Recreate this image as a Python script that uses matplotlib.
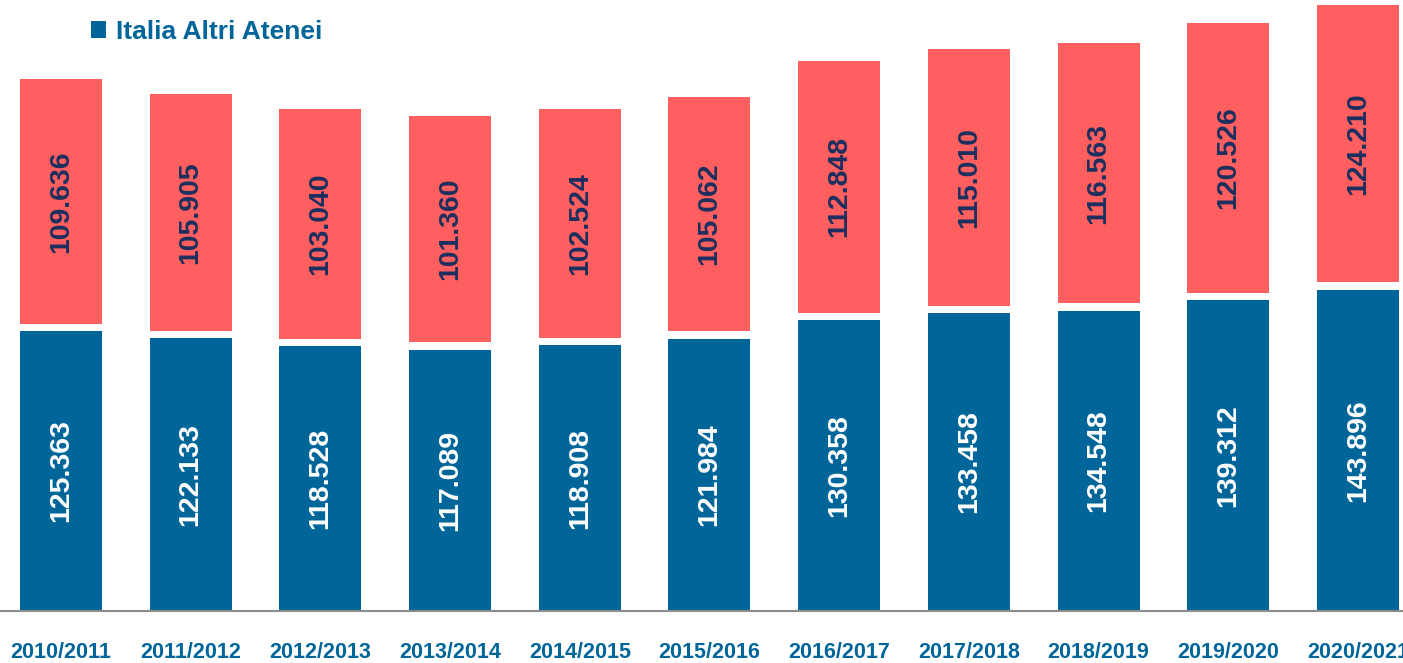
import numpy as np
import matplotlib
matplotlib.use('Agg')
import matplotlib.pyplot as plt

# data (thousands shown with dot separators)
years = ["2010/2011", "2011/2012", "2012/2013", "2013/2014", "2014/2015", "2015/2016",
         "2016/2017", "2017/2018", "2018/2019", "2019/2020", "2020/2021"]
altri_atenei = [125363, 122133, 118528, 117089, 118908, 121984,
                130358, 133458, 134548, 139312, 143896]
second_series = [109636, 105905, 103040, 101360, 102524, 105062,
                 112848, 115010, 116563, 120526, 124210]

BLUE = "#00669A"
RED = "#FF5F5F"
NAVY = "#1B2F5E"
GAP = 3300  # small white gap between the two stacked segments

plt.rcParams['font.family'] = ['Liberation Sans', 'DejaVu Sans']

fig = plt.figure(figsize=(14.03, 6.63), dpi=100)
ax = fig.add_axes([0, 52 / 663, 1, 611 / 663])

x = np.arange(len(years))
blue = np.array(altri_atenei)
red = np.array(second_series)
width = 0.632

b1 = ax.bar(x, blue, width, color=BLUE, label="Italia Altri Atenei")
b2 = ax.bar(x, red, width, bottom=blue + GAP, color=RED)


def fmt(v):
    return f"{v:,}".replace(",", ".")


for xi, bv, rv in zip(x, blue, red):
    ax.text(xi, bv / 2, fmt(bv), rotation=90, ha='center', va='center',
            color='white', fontsize=20.5, fontweight='bold')
    ax.text(xi, bv + GAP + rv / 2, fmt(rv), rotation=90, ha='center', va='center',
            color=NAVY, fontsize=20.5, fontweight='bold')

ax.set_xlim(-0.47, 10.347)
ax.set_ylim(0, 273600)
ax.set_xticks(x)
ax.set_xticklabels(years, fontsize=15.5, fontweight='bold', color=BLUE)
ax.tick_params(axis='x', length=0, pad=22)
ax.set_yticks([])
for side in ['top', 'right', 'left']:
    ax.spines[side].set_visible(False)
ax.spines['bottom'].set_color('#8C8C8C')
ax.spines['bottom'].set_linewidth(1.5)

ax.legend(handles=[b1], loc='upper left', bbox_to_anchor=(91 / 1403, 1 - 20 / 663),
          bbox_transform=fig.transFigure, frameon=False,
          prop={'weight': 'bold', 'size': 19}, labelcolor=BLUE,
          handlelength=0.58, handleheight=0.58, handletextpad=0.35,
          borderpad=0, borderaxespad=0)

fig.savefig("out.png", dpi=100)
plt.close(fig)
